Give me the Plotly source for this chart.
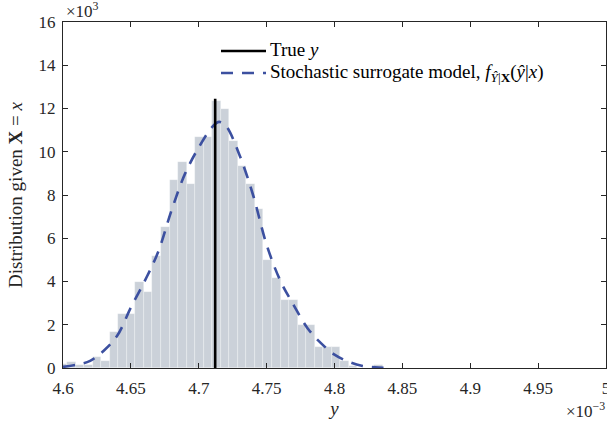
import numpy as np
import plotly.graph_objects as go

# ---------------- data (x in units of 1e-3, y in units of 1e3) ----------------
bin_first_edge = 4.5967
bin_width = 0.00629
density = [0.20, 0.30, 0.14, 0.14, 0.49, 0.32, 1.65, 2.50, 2.50, 3.99,
           3.51, 5.16, 6.52, 8.69, 9.52, 8.50, 10.67, 10.67, 12.35, 12.00,
           10.50, 9.35, 8.52, 7.35, 5.00, 4.16, 3.16, 3.16, 1.99, 1.99,
           0.97, 0.97, 0.97, 0.34, 0.07, 0.00, 0.00, 0.14]

curve_x = [4.60, 4.61, 4.62, 4.63, 4.64, 4.65, 4.66, 4.67, 4.68, 4.69,
           4.70, 4.71, 4.715, 4.72, 4.73, 4.74, 4.75, 4.76, 4.77, 4.78,
           4.79, 4.80, 4.81, 4.82, 4.83, 4.84]
curve_y = [0.05, 0.15, 0.33, 0.80, 1.50, 2.80, 4.00, 5.35, 7.30, 9.00,
           10.20, 11.15, 11.38, 11.20, 9.85, 8.00, 5.70, 4.05, 2.90, 1.85,
           1.15, 0.62, 0.30, 0.10, 0.03, 0.01]

true_y = 4.7121
true_line_top = 12.45

x_ticks = [4.6, 4.65, 4.7, 4.75, 4.8, 4.85, 4.9, 4.95, 5.0]
x_tick_labels = ["4.6", "4.65", "4.7", "4.75", "4.8", "4.85", "4.9", "4.95", "5"]
y_ticks = [0, 2, 4, 6, 8, 10, 12, 14, 16]
y_tick_labels = ["0", "2", "4", "6", "8", "10", "12", "14", "16"]

legend_labels = ["True <i>y</i>",
                 "Stochastic surrogate model, <i>f</i><sub><i>Ŷ</i>|<b>X</b></sub>(<i>ŷ</i>|<i>x</i>)"]

# ---------------- styling ----------------
FONT = "Liberation Serif"
AX = "#262626"
BAR = "#cbd1d9"
BLUE = "#3c50a0"
W, H = 607, 426
ML, MR, MT, MB = 63, 1, 22, 58
PW, PH = W - ML - MR, H - MT - MB


def px2paper_x(px):
    return (px - ML) / PW


def px2paper_y(py):
    return (H - MB - py) / PH


centers = bin_first_edge + bin_width * (np.arange(len(density)) + 0.5)

fig = go.Figure()
fig.add_trace(go.Bar(x=centers, y=density, width=bin_width,
                     marker=dict(color=BAR, line=dict(color="rgba(255,255,255,0.45)", width=0.6)),
                     hoverinfo="skip"))
fig.add_trace(go.Scatter(x=curve_x, y=curve_y, mode="lines", line_shape="spline",
                         line=dict(color=BLUE, width=2.6, dash="12px,9px")))
fig.add_trace(go.Scatter(x=[true_y, true_y], y=[0, true_line_top], mode="lines",
                         line=dict(color="black", width=2.6)))

axis_common = dict(showgrid=False, zeroline=False, showline=True, linecolor=AX, linewidth=1,
                   mirror="ticks", ticks="inside", ticklen=5, tickcolor=AX, tickwidth=1,
                   ticklabeloverflow="allow",
                   tickfont=dict(family=FONT, size=17, color=AX))

fig.update_xaxes(range=[4.6, 5.0], tickvals=x_ticks, ticktext=x_tick_labels,
                 ticklabelstandoff=5,
                 title=dict(text="<i>y</i>", font=dict(family=FONT, size=19, color=AX), standoff=4),
                 **axis_common)
fig.update_yaxes(range=[0, 16], tickvals=y_ticks, ticktext=y_tick_labels,
                 ticklabelstandoff=3,
                 title=dict(text="Distribution given <b>X</b> = <i>x</i>",
                            font=dict(family=FONT, size=19, color=AX), standoff=10),
                 **axis_common)

shapes = [
    dict(type="line", xref="paper", yref="paper", x0=px2paper_x(221), x1=px2paper_x(266),
         y0=px2paper_y(51), y1=px2paper_y(51), line=dict(color="black", width=2.6)),
    dict(type="line", xref="paper", yref="paper", x0=px2paper_x(221), x1=px2paper_x(266),
         y0=px2paper_y(73), y1=px2paper_y(73), line=dict(color=BLUE, width=2.6, dash="12px,9px")),
]
annotations = [
    dict(text=legend_labels[0], xref="paper", yref="paper", x=px2paper_x(268), y=px2paper_y(50),
         xanchor="left", yanchor="middle", showarrow=False, font=dict(family=FONT, size=19, color="black")),
    dict(text=legend_labels[1], xref="paper", yref="paper", x=px2paper_x(268), y=px2paper_y(73),
         xanchor="left", yanchor="middle", showarrow=False, font=dict(family=FONT, size=19, color="black")),
    dict(text="×10<sup>3</sup>", xref="paper", yref="paper", x=px2paper_x(64), y=px2paper_y(10),
         xanchor="left", yanchor="middle", showarrow=False, font=dict(family=FONT, size=17, color=AX)),
    dict(text="×10<sup>−3</sup>", xref="paper", yref="paper", x=px2paper_x(607), y=px2paper_y(410),
         xanchor="right", yanchor="middle", showarrow=False, font=dict(family=FONT, size=17, color=AX)),
]

fig.update_layout(width=W, height=H, margin=dict(l=ML, r=MR, t=MT, b=MB, autoexpand=False),
                  plot_bgcolor="white", paper_bgcolor="white", showlegend=False,
                  bargap=0, shapes=shapes, annotations=annotations)

fig.write_html("out.html")
